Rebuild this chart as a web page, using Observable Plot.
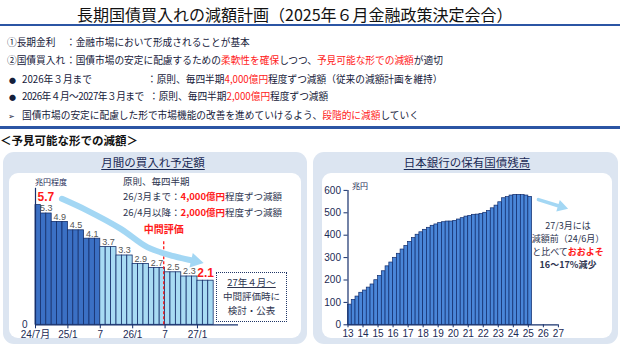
<!DOCTYPE html>
<html><head><meta charset="utf-8">
<script src="https://cdn.jsdelivr.net/npm/d3@7"></script>
<script src="https://cdn.jsdelivr.net/npm/@observablehq/plot@0.6"></script>
<style>
html,body{margin:0;padding:0;background:#fff;}
#page{position:relative;width:620px;height:349px;overflow:hidden;font-family:"Noto Sans CJK JP","Noto Sans",sans-serif;color:#15203a;}
.abs{position:absolute;white-space:nowrap;line-height:1;}
.red{color:#ff1a1a;}
.b{font-weight:bold;}
.row{font-size:9.7px;}
.dot{font-size:7px;}
.panel{position:absolute;background:#dce5f1;border-radius:11px;}
.inner{position:absolute;background:#fff;border-radius:9px;}
.ptitle{font-size:11.5px;text-decoration:underline;text-underline-offset:2px;color:#1b2a55;text-align:center;}
.chart{position:absolute;top:170px;}
.note{font-size:9.5px;color:#2e3550;}
.rnote{font-size:9px;color:#2e3550;}
</style></head>
<body><div id="page">
  <div class="abs" style="left:77px;top:6px;font-size:16px;color:#111;">長期国債買入れの減額計画（2025年６月金融政策決定会合）</div>
  <div class="abs" style="left:0;top:24px;width:620px;height:2px;background:#2b55a4;"></div>

  <div class="abs row" style="left:7px;top:38px;">①長期金利</div>
  <div class="abs row" style="left:66px;top:38px;">：金融市場において形成されることが基本</div>
  <div class="abs row" style="left:7px;top:56px;">②国債買入れ</div>
  <div class="abs row" style="left:66px;top:56px;">：国債市場の安定に配慮するための<span class="red">柔軟性を確保</span>しつつ、<span class="red">予見可能な形での減額</span>が適切</div>
  <div class="abs dot" style="left:9px;top:76.5px;">●</div>
  <div class="abs row" style="left:22px;top:75px;">2026年３月まで</div>
  <div class="abs row" style="left:147px;top:75px;">：原則、毎四半期<span class="red">4,000億円</span>程度ずつ減額（従来の減額計画を維持）</div>
  <div class="abs dot" style="left:9px;top:93.5px;">●</div>
  <div class="abs row" style="left:22px;top:92px;letter-spacing:-0.5px;">2026年４月～2027年３月まで</div>
  <div class="abs row" style="left:149px;top:92px;">：原則、毎四半期<span class="red">2,000億円</span>程度ずつ減額</div>
  <div class="abs" style="left:8px;top:112px;font-size:8px;">➢</div>
  <div class="abs row" style="left:22px;top:111px;">国債市場の安定に配慮した形で市場機能の改善を進めていけるよう、<span class="red">段階的に減額</span>していく</div>
  <div class="abs" style="left:0;top:126px;width:620px;height:3px;background:#2b55a4;"></div>

  <div class="abs b" style="left:0;top:135px;font-size:11.5px;color:#111;">＜予見可能な形での減額＞</div>

  <div class="panel" style="left:3px;top:152px;width:304px;height:192px;"></div>
  <div class="inner" style="left:9px;top:173px;width:292px;height:165px;"></div>
  <div class="panel" style="left:313px;top:152px;width:305px;height:192px;"></div>
  <div class="inner" style="left:322px;top:173px;width:290px;height:165px;"></div>

  <div class="abs ptitle" style="left:53px;top:157px;width:200px;">月間の買入れ予定額</div>
  <div class="abs ptitle" style="left:367px;top:157px;width:200px;">日本銀行の保有国債残高</div>

  <div id="left" class="chart" style="left:0;"></div>
  <div id="right" class="chart" style="left:310px;"></div>

  <div class="abs" style="left:35px;top:178px;font-size:8px;color:#1b2a55;">兆円程度</div>
  <div class="abs note" style="left:123px;top:177px;">原則、毎四半期</div>
  <div class="abs note" style="left:123px;top:192px;">26/3月まで：<span class="red b">4,000億円</span>程度ずつ減額</div>
  <div class="abs note" style="left:123px;top:207.5px;">26/4月以降：<span class="red b">2,000億円</span>程度ずつ減額</div>

  <div class="abs" style="left:216px;top:272px;width:69px;height:48px;border:1px dotted #1f3566;"></div>
  <div class="abs note" style="left:216px;top:278px;width:71px;text-align:center;text-decoration:underline;">27年４月～</div>
  <div class="abs note" style="left:216px;top:292px;width:71px;text-align:center;">中間評価時に</div>
  <div class="abs note" style="left:216px;top:306px;width:71px;text-align:center;">検討・公表</div>

  <div class="abs" style="left:352px;top:182px;font-size:8px;color:#1b2a55;">兆円</div>
  <div class="abs rnote" style="left:518px;top:220.5px;width:100px;text-align:center;">27/3月には</div>
  <div class="abs rnote" style="left:518px;top:233.5px;width:100px;text-align:center;">減額前（24/6月）</div>
  <div class="abs rnote" style="left:518px;top:246.5px;width:100px;text-align:center;">と比べて<span class="red b">おおよそ</span></div>
  <div class="abs rnote red b" style="left:518px;top:259.5px;width:100px;text-align:center;">16～17%減少</div>
</div>
<script>
// ---- Left chart data: monthly purchase plan (trillion yen)
const planLevels = [5.7, 5.3, 4.9, 4.5, 4.1, 3.7, 3.3, 2.9, 2.7, 2.5, 2.3, 2.1];
const planSpans  = [1, 2, 3, 3, 3, 3, 3, 3, 3, 3, 3, 3];
const planPhase  = ["前", "前", "前", "前", "前", "後", "後", "後", "後", "後", "後", "後"];
const planHighlight = [true, false, false, false, false, false, false, false, false, false, false, true];
const planTickMonths = [0, 6, 12, 18, 24, 30];
const planTickLabels = ["24/7月", "25/1", "7", "26/1", "7", "27/1"];
const planAxisEnd = 37.6;
const planAxisTop = 6.5;
const midReview = [{m: 23.75, top: 4.0, label: "中間評価"}];
const planArrow = [
  {m: 4.9, v: 6.0}, {m: 9.6, v: 5.44}, {m: 15.8, v: 4.57}, {m: 20.7, v: 3.7},
  {m: 25.6, v: 3.27}, {m: 29.6, v: 3.03}
];

// ---- Right chart data: BOJ JGB holdings, quarterly from 2013/3 (trillion yen)
const holdStartYear = 2013;
const holdings = [
  90, 111, 126, 143, 153, 166, 180, 199, 218, 239, 261, 278,
  299, 317, 336, 352, 370, 387, 402, 413, 424, 433, 442, 448,
  454, 458, 461, 461, 464, 470, 476, 483, 486, 491, 492, 495,
  500, 508, 520, 532, 547, 565, 570, 577, 580, 580, 579, 577, 571
];
const holdYearTicks = [2013, 2014, 2015, 2016, 2017, 2018, 2019, 2020, 2021, 2022, 2023, 2024, 2025, 2026, 2027];
const holdValueTicks = [0, 100, 200, 300, 400, 500, 600];
const holdArrow = [{x: 2025.67, v: 559}, {x: 2027.2, v: 527}];

const navy = "#16306c";
const arrowBlue = "#a3d7f4";
const baseStyle = {background: "none", overflow: "visible", color: "#1b2a55",
  fontFamily: '"Liberation Sans","Noto Sans CJK JP",sans-serif', fontSize: "10px"};

// build monthly bars
const leftBars = [];
const levelData = [];
let mi = 0;
planLevels.forEach((v, k) => {
  const start = mi;
  for (let j = 0; j < planSpans[k]; j++) { leftBars.push({m0: mi, m1: mi + 1, v, phase: planPhase[k]}); mi++; }
  levelData.push({start, end: mi, mid: (start + mi) / 2, v, hi: planHighlight[k], k});
});

const left = Plot.plot({
  width: 310, height: 175,
  marginLeft: 35, marginRight: 72, marginTop: 7.3, marginBottom: 20.7,
  x: {domain: [0, planAxisEnd], label: null},
  y: {domain: [0, 7], label: null},
  style: baseStyle,
  marks: [
    Plot.rect(leftBars, {x1: "m0", x2: "m1", y1: 0, y2: "v",
      fill: d => d.phase === "前" ? "#3b70c4" : "#a8dbf3", stroke: navy, strokeWidth: 0.8}),
    Plot.ruleY([0], {stroke: navy, strokeWidth: 1.2}),
    Plot.ruleX([0], {y1: 0, y2: planAxisTop, stroke: navy, strokeWidth: 1.2}),
    Plot.axisX(planTickMonths, {tickSize: 4, tickPadding: 2, stroke: navy, label: null,
      tickFormat: d => planTickLabels[planTickMonths.indexOf(d)]}),
    Plot.axisY([0], {tickSize: 0, tickPadding: 8, label: null}),
    Plot.text(levelData.filter(d => !d.hi), {x: "mid", y: "v", text: d => d.v.toFixed(1), dy: -5, fill: "#555", fontSize: 9}),
    Plot.text(levelData.filter(d => d.hi && d.k === 0), {x: "start", y: "v", text: d => d.v.toFixed(1), dy: -8, dx: 2,
      textAnchor: "start", fill: "#ff1a1a", fontSize: 12, fontWeight: "bold"}),
    Plot.text(levelData.filter(d => d.hi && d.k > 0), {x: "mid", y: "v", text: d => d.v.toFixed(1), dy: -7.5,
      fill: "#ff1a1a", fontSize: 12, fontWeight: "bold"}),
    Plot.ruleX(midReview, {x: "m", y1: 0, y2: "top", stroke: "#ff1a1a", strokeWidth: 1.3, strokeDasharray: "3,2"}),
    Plot.text(midReview, {x: "m", y: "top", text: "label", dy: -11, fill: "#ff1a1a", fontWeight: "bold", fontSize: 10,
      fontFamily: '"Noto Sans CJK JP",sans-serif'}),
    Plot.line(planArrow, {x: "m", y: "v", stroke: arrowBlue, strokeWidth: 6, curve: "catmull-rom"}),
    Plot.dot(planArrow.slice(-1), {x: "m", y: "v", symbol: "triangle", r: 5.5, fill: arrowBlue, rotate: 103})
  ]
});
document.getElementById("left").appendChild(left);

const holdData = holdings.map((v, i) => ({x0: holdStartYear + i / 4, x1: holdStartYear + (i + 1) / 4, v}));
const right = Plot.plot({
  width: 310, height: 175,
  marginLeft: 37.5, marginRight: 62.1, marginTop: 19.9, marginBottom: 20.7,
  x: {domain: [2013, 2027], label: null},
  y: {domain: [0, 600], label: null},
  style: baseStyle,
  marks: [
    Plot.rect(holdData, {x1: "x0", x2: "x1", y1: 0, y2: "v", fill: "#4a86d8", stroke: "#0f2a6a", strokeWidth: 0.7}),
    Plot.ruleY([0], {stroke: navy, strokeWidth: 1.2}),
    Plot.ruleX([2013], {y1: 0, y2: 600, stroke: navy, strokeWidth: 1.2}),
    Plot.axisY(holdValueTicks, {tickSize: 4, tickPadding: 3, stroke: navy, label: null}),
    Plot.axisX(holdYearTicks, {tickSize: 3, tickPadding: 2, stroke: navy, label: null, tickFormat: d => String(d % 100)}),
    Plot.line(holdArrow, {x: "x", y: "v", stroke: arrowBlue, strokeWidth: 3.5}),
    Plot.dot(holdArrow.slice(-1), {x: "x", y: "v", symbol: "triangle", r: 4.5, fill: arrowBlue, rotate: 107})
  ]
});
document.getElementById("right").appendChild(right);
</script>
</body></html>
